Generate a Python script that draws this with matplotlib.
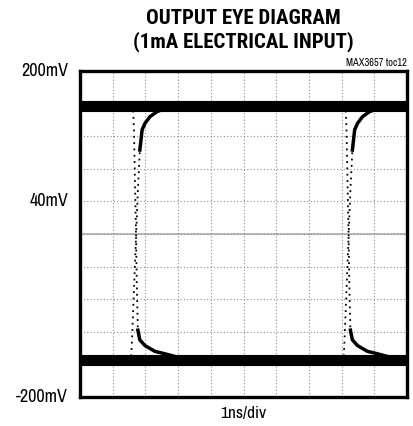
import matplotlib
matplotlib.use("Agg")
import matplotlib.pyplot as plt

# chart text
title_lines = ["OUTPUT EYE DIAGRAM", "(1mA ELECTRICAL INPUT)"]
chart_id = "MAX3657 toc12"
y_tick_values = [200, 40, -200]
y_tick_labels = ["200mV", "40mV", "-200mV"]
x_label = "1ns/div"

# levels (mV) and edge crossings (ns)
high_level_mv = 157
low_level_mv = -155
edge_times_ns = [1.7, 8.2]

# falling edge, relative to the crossing time
fall_t = [-0.30, -0.08, -0.05, -0.02, 0.01, 0.04, 0.07, 0.13, 0.29, 0.59, 0.90, 1.36, 1.97]
fall_mv = [157, 158, 128, 66, 5, -69, -118, -130, -137, -144, -147, -152, -155]

# rising edge, relative to the crossing time
rise_t = [-0.40, -0.14, -0.11, -0.05, 0.01, 0.07, 0.13, 0.20, 0.29, 0.44, 0.65, 0.96, 1.51]
rise_mv = [-155, -155, -130, -69, -7, 54, 103, 128, 136, 144, 150, 155, 158]

FONT = ["Archivo Narrow", "DejaVu Sans"]
TITLE_FONT = ["Roboto Condensed", "Barlow Condensed", "DejaVu Sans"]

fig = plt.figure(figsize=(4.13, 4.26), dpi=100)
ax = fig.add_axes([80 / 413, 1 - 397 / 426, 327 / 413, 326 / 426])

ax.set_xlim(0, 10)
ax.set_ylim(-200, 200)

# scope graticule
ax.set_xticks(range(11))
ax.set_yticks(range(-200, 201, 40))
ax.grid(True, linestyle=(0, (1, 2)), color="#8c8c8c", linewidth=0.8)
ax.axhline(0, color="#b0b0b0", linewidth=1.2, zorder=1)
ax.tick_params(length=0, labelbottom=False, labelleft=False)

# the two noisy rails
ax.plot([0, 10], [high_level_mv, high_level_mv], color="black", linewidth=8, solid_capstyle="butt", zorder=3)
ax.plot([0, 10], [low_level_mv, low_level_mv], color="black", linewidth=8, solid_capstyle="butt", zorder=3)

# edges at each crossing
for t0 in edge_times_ns:
    ft = [t0 + t for t in fall_t]
    rt = [t0 + t for t in rise_t]
    ax.plot(ft, fall_mv, color="black", linewidth=1.3, linestyle=(0, (1, 2.5)), zorder=4)
    ax.plot(rt, rise_mv, color="black", linewidth=1.3, linestyle=(0, (1, 2.5)), zorder=4)
    ax.plot(ft[6:], fall_mv[6:], color="black", linewidth=2.5, zorder=4)
    ax.plot(rt[6:], rise_mv[6:], color="black", linewidth=2.5, zorder=4)

for side in ax.spines.values():
    side.set_linewidth(2.4)
    side.set_zorder(5)

# y labels placed beside the frame
for v, lab in zip(y_tick_values, y_tick_labels):
    ax.text(-0.37, v, lab, ha="right", va="center", fontsize=13, family=FONT,
            transform=ax.transData, clip_on=False)

ax.text(5, -211, x_label, ha="center", va="top", fontsize=12.5, family=FONT, clip_on=False)

fig.text(243.5 / 413, 1 - 19 / 426, title_lines[0], ha="center", va="center",
         fontsize=15, fontweight="bold", family=TITLE_FONT)
fig.text(243.5 / 413, 1 - 42 / 426, title_lines[1], ha="center", va="center",
         fontsize=15, fontweight="bold", family=TITLE_FONT)
fig.text(407 / 413, 1 - 66 / 426, chart_id, ha="right", va="baseline",
         fontsize=7.5, family=FONT)

fig.savefig("out.png", dpi=100)
